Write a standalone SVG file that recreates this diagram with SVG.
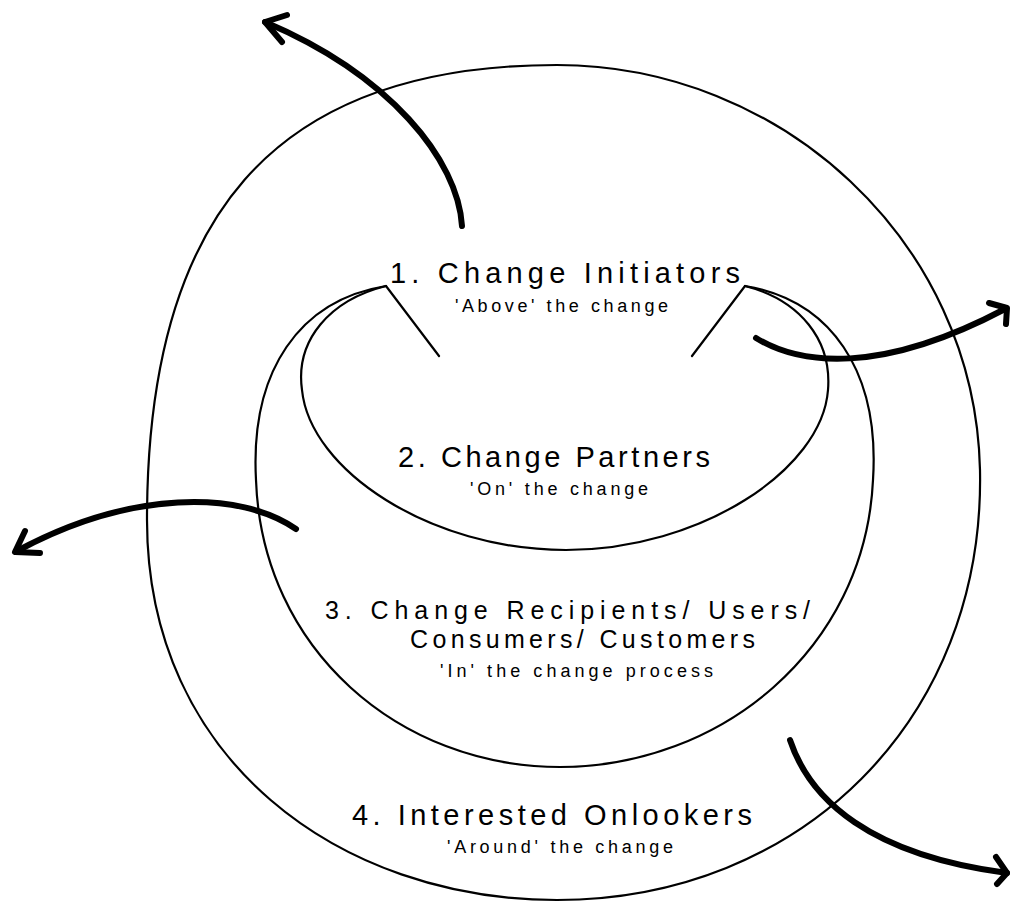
<svg xmlns="http://www.w3.org/2000/svg" width="1010" height="902" viewBox="0 0 1010 902">
<style>
.ring{fill:none;stroke:#000;stroke-width:2.2;stroke-linecap:round;stroke-linejoin:round}
.arrow{fill:none;stroke:#000;stroke-width:6;stroke-linecap:round;stroke-linejoin:round}
.title{font-family:"Liberation Sans","DejaVu Sans",sans-serif;font-size:29px;fill:#000}
.title2{font-family:"Liberation Sans","DejaVu Sans",sans-serif;font-size:25px;fill:#000}
.sub{font-family:"Liberation Sans","DejaVu Sans",sans-serif;font-size:18px;fill:#000}
</style>
<rect width="1010" height="902" fill="#fff"/>
<g id="node-4-onlookers">
<path class="ring" d="M557,65 C780,65 975,240 980,470 C985,720 800,900 557,900 C340,900 147,760 147,520 C147,220 270,65 557,65 Z"/>
<text class="title" x="352" y="825" textLength="400" lengthAdjust="spacing">4. Interested Onlookers</text>
<text class="sub" x="447" y="853" textLength="226" lengthAdjust="spacing">'Around' the change</text>
</g>
<g id="node-3-recipients">
<path class="ring" d="M386,286 C300,300 250,370 256,480 C262,650 400,767 560,767 C720,767 865,650 873,480 C880,370 830,300 745,286"/>
<text class="title2" x="325" y="619" textLength="485" lengthAdjust="spacing">3. Change Recipients/ Users/</text>
<text class="title2" x="410" y="648" textLength="345" lengthAdjust="spacing">Consumers/ Customers</text>
<text class="sub" x="440" y="677" textLength="273" lengthAdjust="spacing">'In' the change process</text>
</g>
<g id="node-2-partners">
<path class="ring" d="M386,286 C330,300 295,340 302,390 C310,470 430,550 566,550 C700,550 822,470 828,390 C832,340 800,300 745,286"/>
<text class="title" x="398" y="467" textLength="312" lengthAdjust="spacing">2. Change Partners</text>
<text class="sub" x="470" y="495" textLength="178" lengthAdjust="spacing">'On' the change</text>
</g>
<g id="node-1-initiators">
<path class="ring" d="M439,356 L386,286 M692,356 L745,286"/>
<text class="title" x="390" y="283" textLength="350" lengthAdjust="spacing">1. Change Initiators</text>
<text class="sub" x="455" y="312" textLength="213" lengthAdjust="spacing">'Above' the change</text>
</g>
<g id="connectors">
<path class="arrow" d="M462,226 C458,160 390,75 265,22"/>
<path class="arrow" d="M287,15 L265,22 L282,42"/>
<path class="arrow" d="M756,338 C800,365 880,375 1005,309"/>
<path class="arrow" d="M989,303 L1007,308 L1006,324"/>
<path class="arrow" d="M296,529 C240,490 130,490 17,551"/>
<path class="arrow" d="M25,531 L15,552 L40,553"/>
<path class="arrow" d="M790,740 C810,800 870,855 1007,873"/>
<path class="arrow" d="M996,857 L1007,873 L997,884"/>
</g>
</svg>
